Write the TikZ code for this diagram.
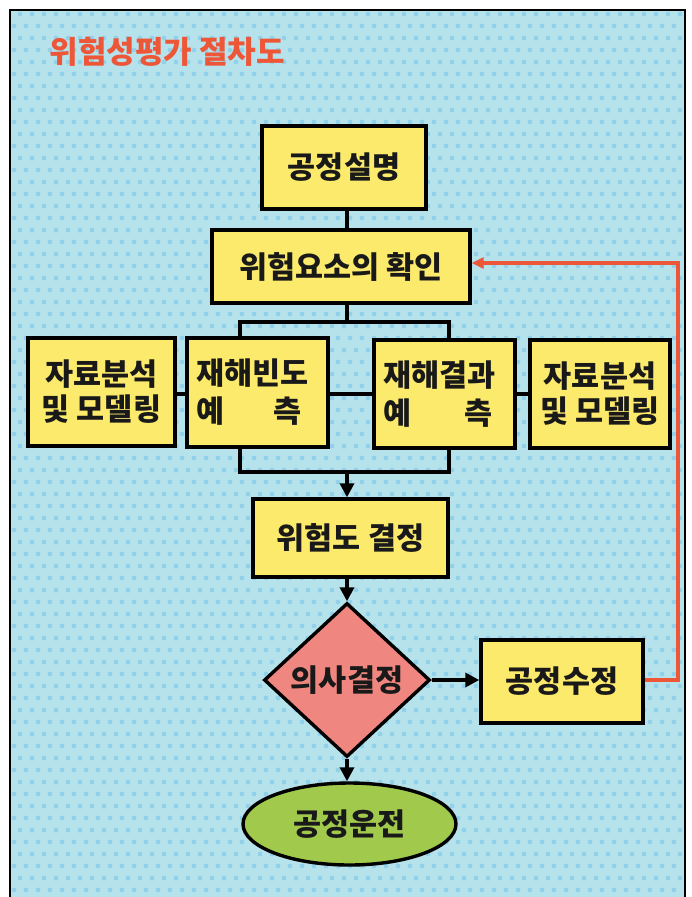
\documentclass[tikz,border=0pt]{standalone}
\usepackage{fontspec}
\setmainfont{Noto Sans CJK KR}
\usetikzlibrary{shapes.geometric,arrows.meta}
\definecolor{bgblue}{HTML}{B6E2EC}
\definecolor{dotblue}{HTML}{92D1EA}
\definecolor{boxyellow}{HTML}{FCEA6C}
\definecolor{dmdred}{HTML}{F08680}
\definecolor{ellgreen}{HTML}{A1CA4D}
\definecolor{redline}{HTML}{EE5638}
\tikzset{
  boxfont/.style={font=\fontsize{30.5}{38}\selectfont\bfseries},
  stepbox/.style={draw=black, line width=3.4pt, fill=boxyellow, inner sep=0pt, boxfont, text=black!90},
  conn/.style={draw=black, line width=3.4pt},
  arr/.style={conn, -{Triangle[length=14pt,width=14pt]}},
  redarr/.style={draw=redline, line width=3.2pt, -{Triangle[length=12pt,width=11pt]}},
}
\begin{document}
\begin{tikzpicture}[x=1pt,y=-1pt]
\useasboundingbox (0,0) rectangle (692,897);
\fill[white] (0,0) rectangle (692,897);
\fill[bgblue] (10,10) rectangle (685,897);
\begin{scope}
  \clip (10,10) rectangle (685,897);
  \foreach \j [evaluate=\j as \off using {mod(\j,2)*6}] in {0,...,75}{
    \foreach \i in {0,...,57}{
      \fill[dotblue] ({8+\i*12+\off},{14+\j*12}) circle (2.4);
    }
  }
\end{scope}
\draw[line width=2.6pt] (10,905) -- (10,10) -- (685,10) -- (685,905);

\node[text=redline, font=\fontsize{31}{36}\selectfont\bfseries, anchor=west] (title) at (46,52) {위험성평가 절차도};

\node[stepbox, minimum width=164, minimum height=83] (s1) at (344,167.5) {\raisebox{-3pt}{공정설명}};
\node[stepbox, minimum width=258, minimum height=73] (s2) at (341,266.5) {\raisebox{-2pt}{위험요소의 확인}};
\node[stepbox, minimum width=147, minimum height=108, align=center] (dl) at (101.5,392) {자료분석\\[-3pt]및 모델링};
\node[stepbox, minimum width=141, minimum height=109] (f) at (257.5,392.5) {\parbox{4em}{재해빈도\\예\hspace{1.6em}측}};
\node[stepbox, minimum width=141, minimum height=108] (c) at (444.5,394) {\parbox{4em}{재해결과\\예\hspace{1.75em}측}};
\node[stepbox, minimum width=140, minimum height=108, align=center] (dr) at (600,394) {자료분석\\[-3pt]및 모델링};
\node[stepbox, minimum width=195, minimum height=78] (r) at (350.5,538) {위험도 결정};
\node[diamond, draw=black, line width=3.4pt, fill=dmdred, inner sep=0pt, minimum width=166, minimum height=154,
  boxfont, text=black!90] (d) at (347,680) {의사결정};
\node[stepbox, minimum width=162, minimum height=83] (m) at (562,681.5) {공정수정};
\node[ellipse, draw=black, line width=3.4pt, fill=ellgreen, inner sep=0pt, minimum width=213, minimum height=82,
  boxfont, text=black!90] (e) at (349.5,824) {공정운전};

\coordinate (sp) at (347,0);
\coordinate (jt) at (347,322);
\coordinate (jb) at (347,472);
\coordinate (xl) at (240,0);
\coordinate (xr) at (449,0);
\coordinate (mid) at (0,394);
\coordinate (rx) at (678,0);
\coordinate (ry) at (0,263);

\draw[conn] (s1.south -| sp) -- (s2.north -| sp);
\draw[conn] (s2.south -| sp) -- (jt);
\draw[conn] (f.north -| xl) |- (jt) -| (c.north -| xr);
\draw[conn] (dl.east |- mid) -- (f.west |- mid);
\draw[conn] (f.east |- mid) -- (c.west |- mid);
\draw[conn] (c.east |- mid) -- (dr.west |- mid);
\draw[conn] (f.south -| xl) |- (jb) -| (c.south -| xr);
\draw[arr] (jb) -- (r.north -| sp);
\draw[arr] (r.south -| sp) -- (d.north);
\draw[arr] (d.east) -- (d.east -| m.west);
\draw[arr] (d.south) -- (d.south |- e.north);
\draw[redarr] (m.east |- d.east) -| (rx |- ry) -- (s2.east |- ry);
\end{tikzpicture}
\end{document}
